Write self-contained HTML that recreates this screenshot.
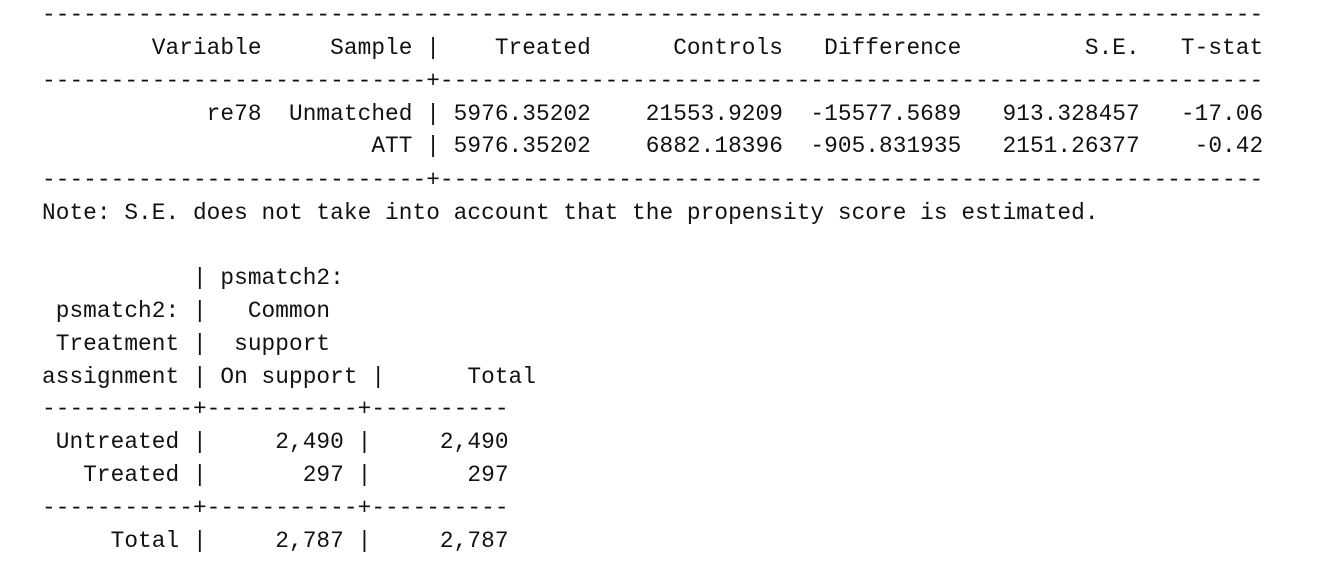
<!DOCTYPE html>
<html>
<head>
<meta charset="utf-8">
<style>
  html, body { margin: 0; padding: 0; background: #fff; }
  body { width: 1320px; height: 580px; position: relative; overflow: hidden; }
  .ln {
    position: absolute; left: 42px; height: 33px; line-height: 33px;
    white-space: pre; font-family: "Liberation Mono", monospace;
    font-size: 22.78px; letter-spacing: 0.06px; color: #111;
  }
</style>
</head>
<body>
<div>
  <div>
    <div class="ln" style="top:-1px">-----------------------------------------------------------------------------------------</div>
    <div class="ln" style="top:32px">        Variable     Sample |    Treated      Controls   Difference         S.E.   T-stat</div>
    <div class="ln" style="top:65px">----------------------------+------------------------------------------------------------</div>
    <div class="ln" style="top:98px">            re78  Unmatched | 5976.35202    21553.9209  -15577.5689   913.328457   -17.06</div>
    <div class="ln" style="top:130px">                        ATT | 5976.35202    6882.18396  -905.831935   2151.26377    -0.42</div>
    <div class="ln" style="top:164px">----------------------------+------------------------------------------------------------</div>
    <div class="ln" style="top:197px">Note: S.E. does not take into account that the propensity score is estimated.</div>
  </div>
  <div>
    <div class="ln" style="top:262px">           | psmatch2:</div>
    <div class="ln" style="top:295px"> psmatch2: |   Common</div>
    <div class="ln" style="top:328px"> Treatment |  support</div>
    <div class="ln" style="top:361px">assignment | On support |      Total</div>
    <div class="ln" style="top:393px">-----------+-----------+----------</div>
    <div class="ln" style="top:426px"> Untreated |     2,490 |     2,490</div>
    <div class="ln" style="top:459px">   Treated |       297 |       297</div>
    <div class="ln" style="top:492px">-----------+-----------+----------</div>
    <div class="ln" style="top:525px">     Total |     2,787 |     2,787</div>
  </div>
</div>
</body>
</html>
